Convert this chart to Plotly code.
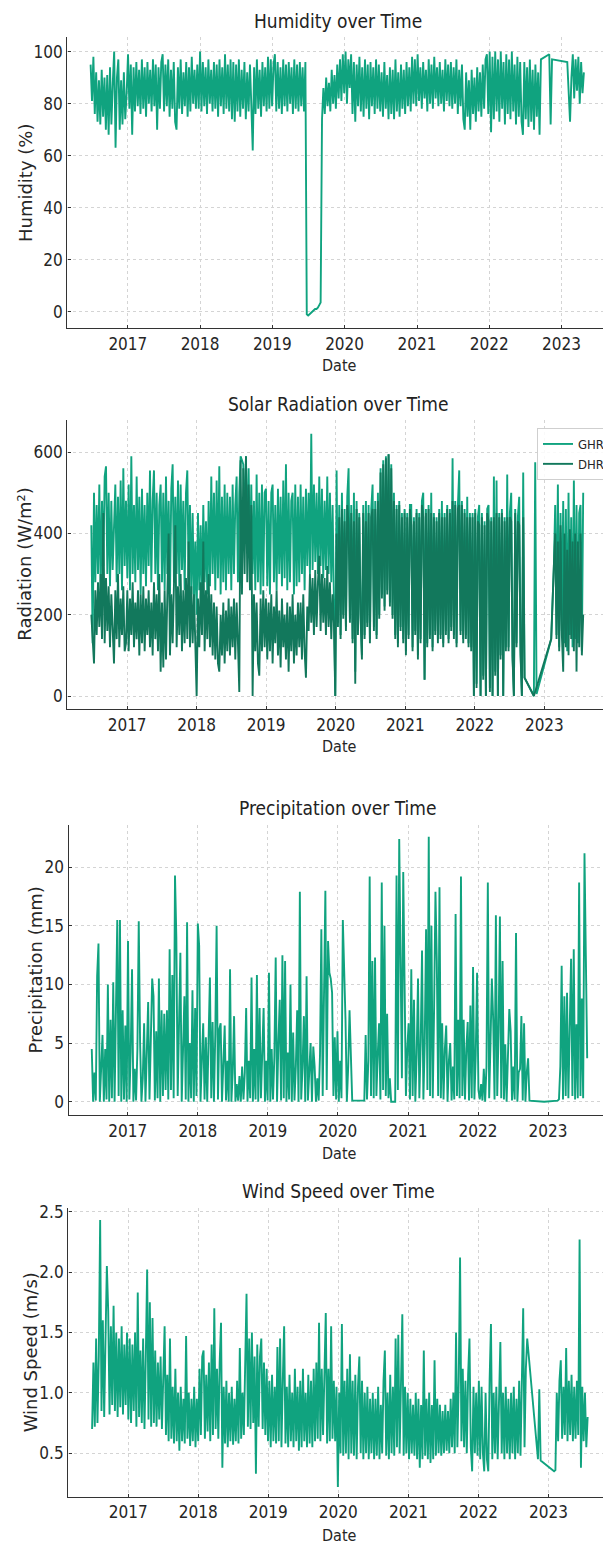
import pandas as pd
import plotly.graph_objects as go

# ---------------- data (weekly samples) ----------------
dates = pd.date_range("2016-06-27", periods=370, freq="7D")
N = None

humidity = [
    95, 81, 98, 76, 92, 73, 89, 72, 93, 75, 90, 70, 91, 68, 94, 72, 88, 100, 63, 90, 97, 70, 89, 72, 92, 74,
    84, 99, 78, 95, 68, 94, 77, 96, 79, 93, 76, 97, 78, 94, 75, 96, 80, 93, 77, 97, 79, 95, 70, 94, 78, 96,
    99, 77, 95, 79, 97, 75, 93, 78, 96, 73, 70, 94, 78, 97, 76, 92, 79, 96, 75, 94, 77, 98, 80, 93, 78, 95,
    78, 100, 77, 96, 79, 94, 76, 97, 80, 93, 77, 96, 78, 95, 75, 97, 79, 94, 76, 99, 78, 95, 77, 97, 74, 96,
    73, 95, 77, 97, 75, 93, 78, 96, 74, 92, 77, 95, 79, 62, 94, 76, 97, 78, 93, 75, 96, 79, 94, 77, 98, 78,
    97, 79, 95, 99, 77, 96, 78, 94, 76, 97, 79, 95, 77, 96, 80, 94, 76, 97, 78, 95, 77, 96, 79, 94, 77, 96,
    -1, -1.5, -1, -0.5, 0, 0.5, 1, 1, 1.5, 2.5, 3.5, 74, 86, 76, 90, 79, 88, 77, 93, 80, 91, 78, 95, 82, 97, 81,
    99, 84, 100, 80, 97, 86, 99, 76, 96, 73, 95, 79, 98, 77, 94, 75, 97, 78, 95, 74, 96, 79, 94, 76, 97, 78,
    95, 77, 92, 75, 96, 78, 91, 74, 94, 76, 93, 74, 97, 77, 92, 75, 95, 78, 93, 76, 96, 79, 94, 77, 98, 80,
    97, 79, 99, 81, 94, 78, 96, 82, 93, 77, 97, 80, 95, 78, 98, 82, 94, 79, 96, 80, 93, 77, 97, 81, 95, 79,
    96, 78, 94, 80, 97, 76, 93, 79, 95, 74, 70, 92, 75, 89, 70, 93, 76, 90, 73, 94, 77, 92, 75, 95, 78, 97,
    99, 76, 100, 69, 98, 74, 100, 77, 97, 73, 100, 78, 96, 72, 99, 76, 97, 74, 100, 77, 95, 72, 98, 75, 96, 73,
    68, 96, 74, 94, 71, 97, 73, 93, 70, 95, 75, 92, 68, 97, N, N, N, N, N, 99, 72, 97, N, N, N, N,
    N, N, N, N, N, N, 96, N, 73, 90, 99, 82, 97, 85, 98, 80, 96, 84, 92, N, N, N, N, N, N, N,
    N, N, N, N, N, N,
]

ghr = [
    420, 130, 500, 280, 470, 300, 520, 260, 480, 320, 540, 565, 300, 500, 270, 480, 310, 450, 520, 280, 490, 300, 530, 260, 560, 320,
    480, 290, 520, 260, 590, 300, 470, 280, 540, 310, 490, 250, 510, 300, 470, 270, 500, 320, 555, 280, 480, 555, 300, 500, 260, 470,
    520, 280, 500, 260, 540, 300, 480, 250, 510, 570, 280, 490, 300, 530, 270, 520, 310, 480, 260, 500, 555, 290, 470, 250, 450, 230,
    380, 200, 450, 260, 420, 240, 470, 280, 430, 250, 480, 270, 540, 300, 500, 260, 530, 290, 565, 250, 490, 280, 520, 260, 500, 300,
    490, 260, 520, 300, 470, 540, 280, 500, 590, 580, 570, 380, 590, 350, 560, 330, 520, 300, 480, 260, 545, 280, 500, 250, 520, 270,
    500, 510, 270, 480, 250, 500, 520, 280, 470, 260, 510, 300, 490, 270, 530, 290, 570, 260, 500, 280, 480, 500, 250, 520, 270, 490,
    280, 520, 300, 490, 260, 510, 320, 500, 300, 645, 310, 520, 330, 500, 300, 540, 320, 510, 290, 480, 310, 540, 300, 500, 280, 470,
    200, 0, 555, 180, 470, 150, 500, 200, 460, 170, 490, 560, 190, 470, 140, 500, 60, 480, 160, 450, 200, 100, 470, 150, 480, 180,
    470, 140, 460, 520, 170, 480, 150, 500, 200, 560, 250, 580, 220, 590, 260, 595, 230, 570, 200, 500, 150, 470, 130, 480, 170, 450,
    140, 460, 110, 450, 150, 470, 470, 120, 440, 160, 460, 100, 450, 140, 480, 500, 40, 460, 130, 470, 150, 500, 120, 450, 160, 440,
    140, 460, 150, 480, 130, 450, 160, 470, 140, 460, 170, 585, 150, 480, 130, 470, 555, 160, 480, 140, 460, 150, 490, 130, 450, 120,
    450, 0, 460, 30, 440, 470, 0, 450, 50, 430, 0, 460, 470, 20, 440, 0, 540, 60, 530, 0, 450, 100, 460, 0, 440, 120,
    545, 120, 450, 500, 100, 0, 460, 130, 440, 490, 110, 0, 550, 45, N, N, N, N, N, N, 0, 575, 5, N, N, N,
    N, N, N, N, N, N, N, 140, N, 320, 470, 150, 520, 120, 450, 160, 480, 130, 460, 110, 500, 150, 440, 120, 530, 140,
    470, 130, 450, 470, 110, 500,
]

dhr = [
    200, 120, 80, 260, 150, 280, 170, 300, 140, 450, 130, 290, 160, 270, 120, 250, 150, 80, 260, 140, 300, 120, 240, 150, 270, 110,
    130, 260, 110, 240, 150, 280, 120, 230, 140, 260, 100, 250, 130, 270, 110, 240, 150, 260, 120, 230, 100, 280, 140, 250, 110, 300,
    60, 230, 70, 260, 90, 300, 400, 100, 250, 130, 280, 420, 120, 270, 150, 300, 110, 260, 130, 290, 140, 380, 120, 270, 130, 250,
    130, 0, 240, 120, 280, 150, 380, 110, 260, 140, 300, 120, 250, 100, 230, 90, 220, 80, 60, 200, 100, 230, 80, 210, 110, 240,
    100, 220, 120, 240, 90, 230, 130, 10, 580, 250, 560, 300, 590, 280, 520, 260, 470, 0, 250, 110, 230, 80, 50, 240, 110, 260,
    120, 240, 90, 230, 110, 250, 80, 220, 130, 260, 100, 210, 70, 240, 120, 200, 90, 230, 60, 220, 110, 250, 80, 200, 100, 230,
    120, 230, 90, 250, 110, 45, 220, 160, 300, 180, 290, 150, 310, 170, 280, 345, 160, 300, 180, 290, 150, 320, 170, 280, 140, 250,
    180, 0, 400, 170, 440, 140, 460, 190, 430, 160, 470, 420, 180, 450, 130, 430, 30, 460, 150, 440, 190, 90, 450, 140, 430, 170,
    450, 130, 440, 460, 160, 460, 140, 480, 190, 550, 240, 570, 210, 585, 250, 595, 220, 560, 190, 480, 140, 460, 120, 470, 160, 440,
    130, 450, 100, 440, 140, 460, 420, 110, 430, 150, 450, 90, 440, 130, 470, 440, 40, 450, 120, 460, 140, 450, 110, 440, 150, 430,
    130, 450, 140, 440, 120, 440, 150, 460, 130, 450, 160, 480, 140, 470, 120, 460, 470, 150, 470, 130, 450, 140, 440, 120, 440, 110,
    440, 0, 450, 20, 430, 420, 0, 440, 40, 420, 0, 450, 430, 10, 430, 0, 440, 50, 450, 0, 440, 90, 450, 0, 430, 110,
    440, 110, 440, 430, 90, 0, 450, 120, 430, 420, 100, 0, 440, 45, N, N, N, N, N, N, 0, N, N, N, N, N,
    N, N, N, N, N, N, N, 140, N, 320, 400, 140, 380, 110, 420, 150, 60, 400, 120, 360, 100, 410, 140, 380, 110, 400,
    60, 380, 120, 400, 100, 200,
]

precipitation = [
    4.5, 0, 2.5, 0.1, 10.7, 13.5, 0, 3.5, 5.7, 0, 4.5, 0.2, 10, 0, 7, 0.3, 10.2, 0, 6.8, 15.5, 0.5, 15.5, 0, 7.8, 0.2, 6.5,
    0, 13.7, 0.2, 4.2, 11.3, 0, 2.8, 0.1, 4.5, 15.4, 5, 0, 2, 6.7, 0, 3.8, 8.5, 0.2, 5.5, 10.5, 9, 0.1, 6, 0.3, 10.5, 0,
    7.8, 0.5, 7.5, 1, 7.8, 0.2, 13, 1, 10.8, 0.3, 19.3, 14, 0.5, 6, 12.7, 0, 4.5, 9, 0.2, 15.3, 0, 5, 0.3, 9.5, 0, 8,
    0.5, 15.2, 13.3, 0, 3.5, 6.7, 0.2, 5.5, 0, 6.5, 10.6, 0.3, 6.8, 0, 5.8, 15, 0.2, 6.2, 6.7, 0, 4.5, 6.5, 0.1, 3.5, 0, 11.3,
    0, 2.5, 7.3, 0, 1.5, 0.1, 2.2, 0, 3, 0.2, 2.5, 8, 0, 3.5, 0.3, 10.6, 0, 4.5, 0.2, 10.8, 0, 8, 0.3, 5, 8, 0,
    3.5, 0.1, 11, 0, 4.5, 0.2, 3.8, 12.3, 0, 5, 8.7, 0.1, 12.5, 0.3, 12, 0, 4.2, 0.2, 10, 0, 5.9, 0.1, 3, 7.8, 0, 17.9,
    0.2, 3, 7.3, 0, 10.7, 0.1, 2.5, 5, 0, 4.7, 3, 0, 2, 0.1, 4, 14.7, 0.5, 9.5, 18, 1, 13.7, 11, 10.5, 9.3, 0.5, 5.5,
    0.2, 6, 0, 3.5, 0.3, 15.5, 12, 7, 0, 3, 7.8, 3, 0.1, N, N, N, N, N, N, N, N, 0.1, 5.7, 0.2, 3.5, 19.2,
    0.5, 12, 0.3, 12.3, 0.5, 4, 6.7, 0.2, 18.7, 1, 15, 0.5, 7.5, 0.3, 2, 0, 0, 0, 0, 19.3, 1, 22.4, 13, 2, 19.6, 7.8,
    0.5, 4.5, 6.7, 0.2, 11.3, 0.5, 8.7, 0, 4, 10.5, 0.3, 5, 12.9, 0.2, 5, 14.7, 1, 22.6, 0.5, 15, 0.3, 8, 17.9, 12, 0.5, 18.3,
    0.3, 6.7, 0.2, 4.5, 6.5, 0, 3.5, 5, 0.1, 3, 0.2, 16, 0.5, 7, 0.3, 19.2, 0.5, 7, 0.2, 4.5, 6.8, 0.1, 8.2, 0.3, 11.5, 0.2,
    4, 11, 1, 0.2, 1.5, 0.1, 2.8, 0, 3, 18.7, 0.3, 5, 10.5, 7, 0.2, 15.9, 0.5, 6, 15.8, 0.3, 12, 0.2, 4.9, 0, 3.5, 7.9,
    6, 0.1, 3, 0.2, 14.4, 0, 2.5, 2.8, 7.3, 0.1, 6.7, 0, 2.5, 3.7, 0.1, N, N, N, N, N, N, N, N, N, N, 0.0,
    N, N, N, N, N, N, N, N, N, 0.1, 0.2, 3, 11.6, 0.2, 9, 0.5, 9.3, 0.3, 5, 12.2, 0.5, 13, 0.2, 6.6, 0.3, 18.7,
    0.5, 8.8, 0.3, 21.2, 12.5, 3.7,
]

wind_speed = [
    0.7, 1.25, 0.72, 1.45, 0.75, 1.3, 2.43, 0.85, 1.6, 0.8, 1.45, 2.05, 1.68, 0.82, 1.55, 0.9, 1.72, 0.85, 1.5, 0.8, 1.45, 0.88, 1.55, 0.82, 1.4, 0.9,
    1.5, 0.78, 1.45, 0.75, 1.4, 0.85, 1.5, 0.72, 1.83, 0.8, 1.35, 0.75, 1.45, 0.7, 1.3, 2.02, 0.78, 1.75, 0.72, 1.62, 0.75, 1.35, 0.72, 1.25, 0.78, 1.3,
    0.7, 1.2, 1.55, 0.65, 1.15, 0.6, 1.45, 0.62, 1.05, 0.58, 1.2, 0.6, 1.0, 0.52, 1.05, 0.6, 0.95, 0.58, 1.47, 0.62, 1.0, 0.56, 0.95, 0.6, 1.05, 0.55,
    0.95, 0.6, 1.2, 0.65, 1.3, 1.35, 0.62, 1.15, 0.68, 1.25, 0.6, 1.4, 0.65, 1.7, 0.7, 1.2, 0.62, 1.25, 1.58, 0.38, 1.05, 0.58, 1.1, 0.55, 1.0, 0.6,
    1.05, 0.57, 0.95, 0.6, 1.1, 0.58, 1.37, 0.62, 1.0, 0.65, 1.2, 1.82, 0.72, 1.45, 0.7, 1.5, 0.75, 1.3, 0.33, 1.4, 0.72, 1.3, 1.45, 0.7, 1.25, 0.65,
    1.2, 0.6, 1.1, 0.55, 1.15, 0.6, 1.05, 0.58, 1.38, 0.6, 1.45, 0.55, 1.1, 1.55, 0.58, 1.05, 0.55, 1.15, 0.6, 1.0, 0.55, 1.2, 0.6, 1.05, 0.52, 1.1,
    0.55, 1.2, 0.6, 1.0, 0.55, 1.15, 0.58, 1.1, 0.55, 1.2, 0.6, 1.25, 0.62, 1.58, 0.6, 1.2, 0.65, 1.15, 1.66, 0.58, 1.2, 0.6, 1.55, 0.62, 1.1, 0.6,
    1.05, 0.22, 1.0, 0.5, 1.57, 0.48, 1.1, 0.5, 1.2, 0.45, 1.32, 0.5, 1.1, 0.48, 1.15, 0.45, 1.05, 1.3, 0.5, 1.1, 0.45, 1.0, 0.5, 1.05, 0.45, 0.95,
    0.5, 1.0, 0.45, 0.95, 0.48, 1.05, 0.45, 0.9, 0.5, 1.1, 1.35, 0.48, 1.0, 0.45, 1.15, 0.5, 1.05, 0.48, 1.45, 0.55, 1.48, 0.5, 1.1, 1.65, 0.48, 1.05,
    0.5, 1.0, 0.45, 0.95, 0.5, 0.9, 0.48, 1.0, 0.45, 0.95, 0.38, 0.9, 0.45, 1.35, 0.48, 0.95, 0.45, 1.0, 0.42, 0.9, 0.45, 1.27, 0.48, 0.95, 0.5, 0.9,
    0.48, 0.85, 0.5, 0.9, 0.52, 0.85, 0.5, 0.95, 0.55, 1.0, 0.5, 1.5, 0.55, 1.1, 2.12, 0.6, 1.2, 0.55, 1.1, 0.5, 1.15, 1.45, 0.55, 0.35, 1.05, 0.5,
    1.0, 0.48, 1.1, 0.45, 1.05, 0.5, 0.35, 1.0, 0.45, 0.35, 1.1, 1.57, 0.45, 1.0, 0.5, 1.05, 0.45, 0.95, 1.42, 0.5, 1.0, 0.45, 1.05, 0.5, 0.95, 0.45,
    1.0, 0.5, 1.05, 0.45, 0.95, 0.5, 1.1, 0.48, 1.0, 1.7, 0.55, 1.2, 1.45, N, N, N, N, N, N, N, 0.45, 1.03, 0.44, N, N, N,
    N, N, N, N, N, N, 0.35, 0.36, 1.0, 0.6, 1.1, 1.27, 0.62, 1.05, 0.65, 1.37, 0.6, 1.1, 0.65, 1.15, 0.6, 1.05, 0.62, 1.1, 0.65, 2.27,
    0.38, 1.05, 0.6, 1.0, 0.55, 0.8,
]

x_tick_years = ["2017", "2018", "2019", "2020", "2021", "2022", "2023"]

# ---------------- styling ----------------
W, H = 603, 1544
GREEN = "#10a37f"
DARK = "#12785c"
COND = "DejaVu Sans Condensed, DejaVu Sans, sans-serif"
TEXT = "#262626"
TICK_FONT = dict(family=COND, size=17, color=TEXT)


def px(v):
    return v / W


def py(v):
    return 1 - v / H


panels = [
    dict(top=37.3, bottom=328, left=67.3, xr=["2016-03-01 05:00", "2023-07-29 12:00"], yr=[-6.3, 105.5],
         yt=[0, 20, 40, 60, 80, 100], title="Humidity over Time", ty=20.7, dy=366, ylab="Humidity (%)", lx=25.4, fmt=None),
    dict(top=420, bottom=709.3, left=67.3, xr=["2016-02-21 19:00", "2023-11-05 00:00"], yr=[-32.7, 679],
         yt=[0, 200, 400, 600], title="Solar Radiation over Time", ty=404, dy=746.7, ylab="Radiation (W/m²)", lx=25.0, fmt=None),
    dict(top=825, bottom=1115, left=68.5, xr=["2016-02-26 17:00", "2023-10-14 12:00"], yr=[-1.13, 23.6],
         yt=[0, 5, 10, 15, 20], title="Precipitation over Time", ty=808, dy=1153, ylab="Precipitation (mm)", lx=34.6, fmt=None),
    dict(top=1208, bottom=1496.7, left=68.3, xr=["2016-02-24 00:00", "2023-10-12 00:00"], yr=[0.14, 2.53],
         yt=[0.5, 1.0, 1.5, 2.0, 2.5], title="Wind Speed over Time", ty=1190.7, dy=1535, ylab="Wind Speed (m/s)", lx=30.0, fmt=".1f"),
]

fig = go.Figure()
line_w = 1.9
fig.add_trace(go.Scatter(x=dates, y=humidity, mode="lines", line=dict(color=GREEN, width=line_w),
                         connectgaps=True, showlegend=False, xaxis="x", yaxis="y"))
fig.add_trace(go.Scatter(x=dates, y=ghr, mode="lines", name="GHR", line=dict(color=GREEN, width=line_w),
                         connectgaps=True, xaxis="x2", yaxis="y2"))
fig.add_trace(go.Scatter(x=dates, y=dhr, mode="lines", name="DHR", line=dict(color=DARK, width=line_w),
                         connectgaps=True, xaxis="x2", yaxis="y2"))
fig.add_trace(go.Scatter(x=dates, y=precipitation, mode="lines", line=dict(color=GREEN, width=line_w),
                         connectgaps=True, showlegend=False, xaxis="x3", yaxis="y3"))
fig.add_trace(go.Scatter(x=dates, y=wind_speed, mode="lines", line=dict(color=GREEN, width=line_w),
                         connectgaps=True, showlegend=False, xaxis="x4", yaxis="y4"))

layout = dict(
    width=W, height=H, autosize=False,
    margin=dict(l=0, r=0, t=0, b=0, pad=0, autoexpand=False),
    paper_bgcolor="white", plot_bgcolor="white",
    font=dict(family=COND, color=TEXT),
)
annotations = []
for i, p in enumerate(panels, start=1):
    sx = "" if i == 1 else str(i)
    tickvals = [pd.Timestamp(y + "-01-01") for y in x_tick_years]
    layout["xaxis" + sx] = dict(
        domain=[px(p["left"]), 1.0], anchor="y" + sx, type="date", range=p["xr"],
        tickvals=tickvals, ticktext=x_tick_years, automargin=False,
        showgrid=True, gridcolor="#d4d4d4", griddash="dot", gridwidth=1,
        showline=True, linecolor="#333333", linewidth=1.4, mirror=False,
        ticks="inside", ticklen=3, tickcolor="#333333", tickfont=TICK_FONT,
        zeroline=False, ticklabelstandoff=0,
    )
    yax = dict(
        domain=[py(p["bottom"]), py(p["top"])], anchor="x" + sx, range=p["yr"], automargin=False,
        tickvals=p["yt"], showgrid=True, gridcolor="#d4d4d4", griddash="dot", gridwidth=1,
        showline=True, linecolor="#333333", linewidth=1.4, mirror=False,
        ticks="inside", ticklen=3, tickcolor="#333333", tickfont=TICK_FONT,
        zeroline=False, ticklabelstandoff=0,
    )
    if p["fmt"]:
        yax["tickformat"] = p["fmt"]
    layout["yaxis" + sx] = yax
    annotations.append(dict(text=p["title"], x=px(338), y=py(p["ty"]), xref="paper", yref="paper",
                            xanchor="center", yanchor="middle", showarrow=False,
                            font=dict(family=COND, size=19, color="#222222")))
    annotations.append(dict(text="Date", x=px(339), y=py(p["dy"]), xref="paper", yref="paper",
                            xanchor="center", yanchor="middle", showarrow=False,
                            font=dict(family=COND, size=16, color=TEXT)))
    annotations.append(dict(text=p["ylab"], x=px(p["lx"]), y=py((p["top"] + p["bottom"]) / 2), xref="paper",
                            yref="paper", xanchor="center", yanchor="middle", textangle=-90, showarrow=False,
                            font=dict(family="DejaVu Sans, sans-serif", size=18, color=TEXT)))

layout["annotations"] = annotations
layout["legend"] = dict(x=px(537), y=py(428), xanchor="left", yanchor="top",
                        bgcolor="rgba(255,255,255,0.85)", bordercolor="#cfcfcf", borderwidth=1,
                        font=dict(family=COND, size=13, color=TEXT), itemwidth=30, tracegroupgap=0)
layout["showlegend"] = True
fig.update_layout(**layout)

fig.write_html(
    "out.html",
    config={"displayModeBar": False},
    post_script="document.body.style.margin='0px';document.body.style.padding='0px';"
                "document.documentElement.style.overflow='hidden';",
)
